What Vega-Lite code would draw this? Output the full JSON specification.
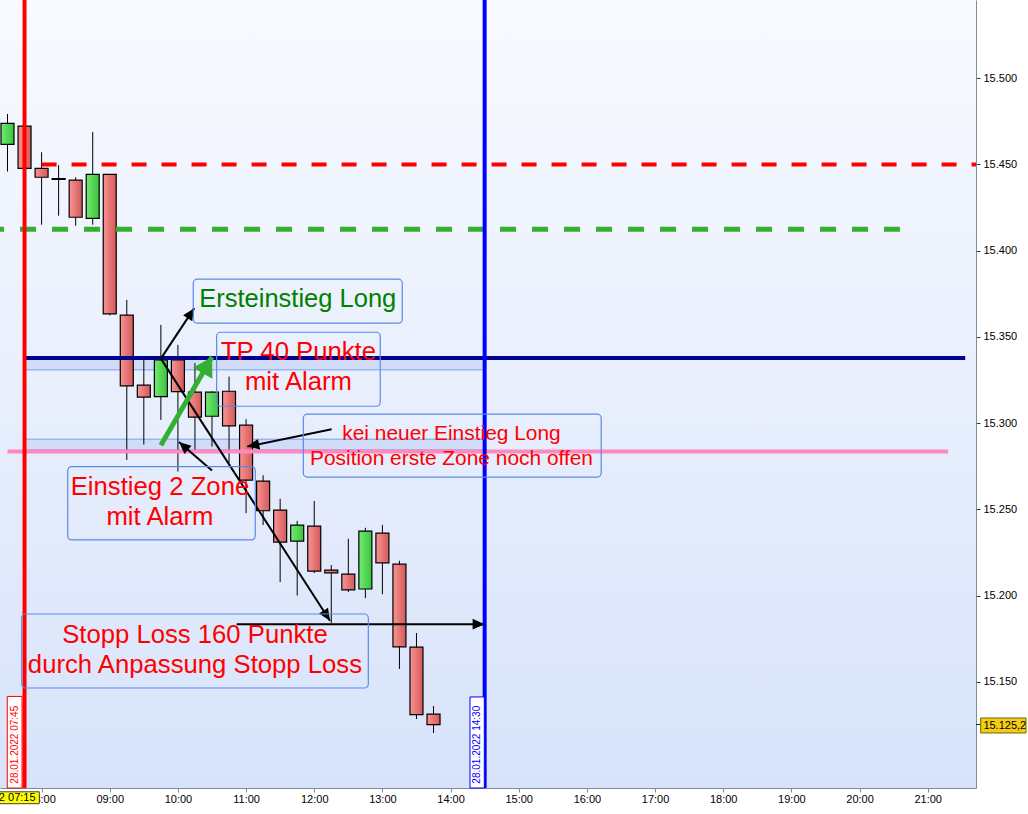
{
  "$schema": "https://vega.github.io/schema/vega-lite/v6.json",
  "width": 976,
  "height": 788,
  "autosize": {"type": "none"},
  "padding": {"left": 0, "top": 0, "right": 52, "bottom": 26},
  "background": "white",
  "config": {"font": "Liberation Sans", "view": {"stroke": null}, "scale": {"continuousPadding": 0}},
  "datasets": {
    "frame": [
      {"t1": "2022-01-28T07:23:24", "t2": "2022-01-28T21:42:30", "v1": 15545.4, "v2": 15088.4}
    ],
    "candles": [
      {"t": "2022-01-28T07:30", "o": 15461.7, "h": 15479.3, "l": 15445.9, "c": 15473.9},
      {"t": "2022-01-28T07:45", "o": 15472.3, "h": 15474.5, "l": 15446.5, "c": 15447.8},
      {"t": "2022-01-28T08:00", "o": 15447.8, "h": 15457.1, "l": 15415.1, "c": 15442.6},
      {"t": "2022-01-28T08:15", "o": 15441.8, "h": 15449.6, "l": 15420.3, "c": 15441.4},
      {"t": "2022-01-28T08:30", "o": 15440.9, "h": 15442.6, "l": 15414.5, "c": 15419.4},
      {"t": "2022-01-28T08:45", "o": 15418.8, "h": 15468.9, "l": 15415.1, "c": 15444.3},
      {"t": "2022-01-28T09:00", "o": 15444.3, "h": 15444.5, "l": 15362.5, "c": 15363.4},
      {"t": "2022-01-28T09:15", "o": 15362.6, "h": 15371.5, "l": 15278.7, "c": 15321.6},
      {"t": "2022-01-28T09:30", "o": 15322.0, "h": 15336.7, "l": 15287.6, "c": 15315.1},
      {"t": "2022-01-28T09:45", "o": 15315.4, "h": 15357.0, "l": 15301.9, "c": 15336.7},
      {"t": "2022-01-28T10:00", "o": 15336.7, "h": 15345.4, "l": 15271.9, "c": 15318.3},
      {"t": "2022-01-28T10:15", "o": 15318.0, "h": 15334.8, "l": 15284.5, "c": 15303.5},
      {"t": "2022-01-28T10:30", "o": 15304.0, "h": 15318.5, "l": 15286.4, "c": 15318.0},
      {"t": "2022-01-28T10:45", "o": 15318.5, "h": 15327.0, "l": 15276.8, "c": 15298.4},
      {"t": "2022-01-28T11:00", "o": 15298.8, "h": 15302.3, "l": 15247.8, "c": 15266.9},
      {"t": "2022-01-28T11:15", "o": 15266.4, "h": 15269.8, "l": 15240.9, "c": 15249.2},
      {"t": "2022-01-28T11:30", "o": 15249.6, "h": 15256.1, "l": 15207.8, "c": 15231.0},
      {"t": "2022-01-28T11:45", "o": 15231.6, "h": 15243.3, "l": 15200.0, "c": 15240.9},
      {"t": "2022-01-28T12:00", "o": 15240.3, "h": 15254.9, "l": 15213.0, "c": 15214.2},
      {"t": "2022-01-28T12:15", "o": 15214.8, "h": 15217.7, "l": 15184.0, "c": 15213.2},
      {"t": "2022-01-28T12:30", "o": 15212.4, "h": 15232.9, "l": 15202.0, "c": 15203.3},
      {"t": "2022-01-28T12:45", "o": 15203.8, "h": 15239.3, "l": 15198.5, "c": 15237.4},
      {"t": "2022-01-28T13:00", "o": 15236.2, "h": 15241.0, "l": 15200.8, "c": 15219.0},
      {"t": "2022-01-28T13:15", "o": 15218.2, "h": 15220.2, "l": 15157.4, "c": 15170.3},
      {"t": "2022-01-28T13:30", "o": 15170.1, "h": 15178.3, "l": 15128.4, "c": 15130.9},
      {"t": "2022-01-28T13:45", "o": 15131.3, "h": 15135.9, "l": 15120.3, "c": 15125.2}
    ],
    "zones": [
      {"t1": "2022-01-28T07:45", "t2": "2022-01-28T14:30", "v1": 15337.5, "v2": 15330.9},
      {"t1": "2022-01-28T07:45", "t2": "2022-01-28T14:30", "v1": 15290.7, "v2": 15284.5}
    ],
    "hlines": [
      {"id": "red", "t1": "2022-01-28T08:00", "t2": "2022-01-28T21:42:30", "v": 15450},
      {"id": "green", "t1": "2022-01-28T07:23:24", "t2": "2022-01-28T20:35:30", "v": 15412.5},
      {"id": "navy", "t1": "2022-01-28T07:45", "t2": "2022-01-28T21:33", "v": 15337.8},
      {"id": "pink", "t1": "2022-01-28T07:30", "t2": "2022-01-28T21:18", "v": 15283.5}
    ],
    "vlines": [
      {"id": "red", "t": "2022-01-28T07:45"},
      {"id": "blue", "t": "2022-01-28T14:30"}
    ],
    "arrows": [
      {"id": "a1", "t1": "2022-01-28T09:45", "v1": 15337.4, "t2": "2022-01-28T10:14:24", "v2": 15366.7},
      {"id": "a2", "t1": "2022-01-28T09:45", "v1": 15287.2, "t2": "2022-01-28T10:30", "v2": 15338.3},
      {"id": "a3", "t1": "2022-01-28T10:30", "v1": 15272.5, "t2": "2022-01-28T10:00:54", "v2": 15289.0},
      {"id": "a4", "t1": "2022-01-28T12:15:18", "v1": 15296.5, "t2": "2022-01-28T11:01:06", "v2": 15286.4},
      {"id": "a5", "t1": "2022-01-28T09:45", "v1": 15337.4, "t2": "2022-01-28T12:13:51", "v2": 15185.4},
      {"id": "a6", "t1": "2022-01-28T10:51:42", "v1": 15183.4, "t2": "2022-01-28T14:30", "v2": 15183.4}
    ],
    "notes": [
      {"id": "n1", "t1": "2022-01-28T10:13:30", "t2": "2022-01-28T13:17:30", "v1": 15383.5, "v2": 15358.0, "tx": "2022-01-28T11:45:30", "ty": 15371.9, "label": "Ersteinstieg Long"},
      {"id": "n2", "t1": "2022-01-28T10:34:06", "t2": "2022-01-28T12:58:06", "v1": 15352.7, "v2": 15309.8, "tx": "2022-01-28T11:46:06", "ty": 15341.1, "label": "TP 40 Punkte\nmit Alarm"},
      {"id": "n3", "t1": "2022-01-28T11:50:24", "t2": "2022-01-28T16:12:36", "v1": 15305.2, "v2": 15268.7, "tx": "2022-01-28T14:00:48", "ty": 15293.7, "label": "kei neuer Einstieg Long\nPosition erste Zone noch offen"},
      {"id": "n4", "t1": "2022-01-28T08:23", "t2": "2022-01-28T11:08:06", "v1": 15274.8, "v2": 15232.3, "tx": "2022-01-28T09:44:12", "ty": 15263.1, "label": "Einstieg 2 Zone\nmit Alarm"},
      {"id": "n5", "t1": "2022-01-28T07:42:30", "t2": "2022-01-28T12:47:36", "v1": 15189.3, "v2": 15146.4, "tx": "2022-01-28T10:15", "ty": 15177.4, "label": "Stopp Loss 160 Punkte\ndurch Anpassung Stopp Loss"}
    ],
    "tags": [
      {"id": "red", "t1": "2022-01-28T07:29:48", "t2": "2022-01-28T07:42:48", "v1": 15141.5, "v2": 15088.4, "tx": "2022-01-28T07:36:18", "ty": 15113.5, "label": "28.01.2022 07:45"},
      {"id": "blue", "t1": "2022-01-28T14:17:06", "t2": "2022-01-28T14:29:42", "v1": 15141.2, "v2": 15088.4, "tx": "2022-01-28T14:23:24", "ty": 15113.5, "label": "28.01.2022 14:30"}
    ],
    "cursor": [
      {"id": "time", "t1": "2022-01-28T06:30", "t2": "2022-01-28T07:58", "v1": 15086.2, "v2": 15079.3, "tx": "2022-01-28T07:17", "ty": 15082.8, "label": "28.01.2022 07:15"},
      {"id": "price", "t1": "2022-01-28T21:46:36", "t2": "2022-01-28T22:26:30", "v1": 15129.0, "v2": 15120.3, "tx": "2022-01-28T21:49", "ty": 15124.6, "label": "15.125,2", "tk": "2022-01-28T21:42:30", "p": 15125.2}
    ]
  },
  "layer": [
    {
      "data": {"name": "frame"},
      "mark": {"type": "rect", "fill": {"gradient": "linear", "x1": 0, "y1": 0, "x2": 0, "y2": 1, "stops": [{"offset": 0, "color": "#f8faff"}, {"offset": 1, "color": "#d8e3fa"}]}},
      "encoding": {
        "x": {"field": "t1", "type": "temporal",
          "scale": {"domain": [{"year": 2022, "month": 1, "date": 28, "hours": 7, "minutes": 23, "seconds": 24}, {"year": 2022, "month": 1, "date": 28, "hours": 21, "minutes": 42, "seconds": 30}], "padding": 0},
          "axis": {"orient": "bottom", "format": "%H:%M", "tickCount": 14, "title": null, "grid": false, "domainColor": "#7b8c9c", "tickColor": "#7b8c9c", "tickSize": 4, "labelPadding": 1, "labelFontSize": 11, "labelColor": "#000000"}},
        "x2": {"field": "t2"},
        "y": {"field": "v1", "type": "quantitative",
          "scale": {"domain": [15088.4, 15545.4], "nice": false, "zero": false, "padding": 0},
          "axis": {"orient": "right", "values": [15150, 15200, 15250, 15300, 15350, 15400, 15450, 15500], "labelExpr": "replace(format(datum.value, ',d'), ',', '.')", "title": null, "grid": false, "domainColor": "#7b8c9c", "tickColor": "#333333", "tickSize": 4, "labelPadding": 3, "labelFontSize": 11, "labelColor": "#000000"}},
        "y2": {"field": "v2"}
      }
    },
    {
      "data": {"name": "zones"},
      "mark": {"type": "rect", "fill": "#d1ddf8", "stroke": "#7ba0ea", "strokeWidth": 1},
      "encoding": {
        "x": {"field": "t1", "type": "temporal"},
        "x2": {"field": "t2"},
        "y": {"field": "v1", "type": "quantitative"},
        "y2": {"field": "v2"}
      }
    },
    {
      "data": {"name": "candles"},
      "mark": {"type": "rule", "color": "black", "strokeWidth": 1},
      "encoding": {
        "x": {"field": "t", "type": "temporal"},
        "y": {"field": "l", "type": "quantitative"},
        "y2": {"field": "h"}
      }
    },
    {
      "data": {"name": "candles"},
      "transform": [{"filter": "datum.c < datum.o"}],
      "mark": {"type": "bar", "size": 13, "stroke": "black", "strokeWidth": 1.2, "fill": {"gradient": "linear", "x1": 0, "y1": 0, "x2": 1, "y2": 0, "stops": [{"offset": 0, "color": "#f99393"}, {"offset": 1, "color": "#d35a5a"}]}},
      "encoding": {
        "x": {"field": "t", "type": "temporal"},
        "y": {"field": "o", "type": "quantitative"},
        "y2": {"field": "c"}
      }
    },
    {
      "data": {"name": "candles"},
      "transform": [{"filter": "datum.c >= datum.o"}],
      "mark": {"type": "bar", "size": 13, "stroke": "black", "strokeWidth": 1.2, "fill": {"gradient": "linear", "x1": 0, "y1": 0, "x2": 1, "y2": 0, "stops": [{"offset": 0, "color": "#72ea72"}, {"offset": 1, "color": "#3cc43c"}]}},
      "encoding": {
        "x": {"field": "t", "type": "temporal"},
        "y": {"field": "o", "type": "quantitative"},
        "y2": {"field": "c"}
      }
    },
    {
      "data": {"name": "hlines"},
      "transform": [{"filter": "datum.id == 'green'"}],
      "mark": {"type": "rule", "color": "#33b033", "strokeWidth": 5, "strokeDash": [16, 16], "strokeDashOffset": 12},
      "encoding": {
        "x": {"field": "t1", "type": "temporal"},
        "x2": {"field": "t2"},
        "y": {"field": "v", "type": "quantitative"}
      }
    },
    {
      "data": {"name": "hlines"},
      "transform": [{"filter": "datum.id == 'red'"}],
      "mark": {"type": "rule", "color": "#ff0000", "strokeWidth": 4, "strokeDash": [15, 15]},
      "encoding": {
        "x": {"field": "t1", "type": "temporal"},
        "x2": {"field": "t2"},
        "y": {"field": "v", "type": "quantitative"}
      }
    },
    {
      "data": {"name": "hlines"},
      "transform": [{"filter": "datum.id == 'pink'"}],
      "mark": {"type": "rule", "color": "#ff88c0", "strokeWidth": 4},
      "encoding": {
        "x": {"field": "t1", "type": "temporal"},
        "x2": {"field": "t2"},
        "y": {"field": "v", "type": "quantitative"}
      }
    },
    {
      "data": {"name": "hlines"},
      "transform": [{"filter": "datum.id == 'navy'"}],
      "mark": {"type": "rule", "color": "#000090", "strokeWidth": 4},
      "encoding": {
        "x": {"field": "t1", "type": "temporal"},
        "x2": {"field": "t2"},
        "y": {"field": "v", "type": "quantitative"}
      }
    },
    {
      "data": {"name": "vlines"},
      "transform": [{"filter": "datum.id == 'red'"}],
      "mark": {"type": "rule", "color": "#ff0000", "strokeWidth": 4},
      "encoding": {"x": {"field": "t", "type": "temporal"}}
    },
    {
      "data": {"name": "vlines"},
      "transform": [{"filter": "datum.id == 'blue'"}],
      "mark": {"type": "rule", "color": "#0000ff", "strokeWidth": 4},
      "encoding": {"x": {"field": "t", "type": "temporal"}}
    },
    {
      "data": {"name": "arrows"},
      "transform": [{"filter": "datum.id != 'a2'"}],
      "mark": {"type": "rule", "color": "black", "strokeWidth": 2},
      "encoding": {
        "x": {"field": "t1", "type": "temporal"},
        "x2": {"field": "t2"},
        "y": {"field": "v1", "type": "quantitative"},
        "y2": {"field": "v2"}
      }
    },
    {
      "data": {"name": "arrows"},
      "transform": [{"filter": "datum.id == 'a2'"}],
      "mark": {"type": "rule", "color": "#33b033", "strokeWidth": 5},
      "encoding": {
        "x": {"field": "t1", "type": "temporal"},
        "x2": {"field": "t2"},
        "y": {"field": "v1", "type": "quantitative"},
        "y2": {"field": "v2"}
      }
    },
    {
      "data": {"name": "arrows"},
      "transform": [{"filter": "datum.id == 'a1'"}],
      "mark": {"type": "point", "shape": "M0,0L0.45,1L-0.45,1Z", "filled": true, "color": "black", "opacity": 1, "size": 576, "angle": 33.2, "strokeWidth": 0},
      "encoding": {"x": {"field": "t2", "type": "temporal"}, "y": {"field": "v2", "type": "quantitative"}}
    },
    {
      "data": {"name": "arrows"},
      "transform": [{"filter": "datum.id == 'a2'"}],
      "mark": {"type": "point", "shape": "M0,0L0.6,1L-0.6,1Z", "filled": true, "color": "#33b033", "opacity": 1, "size": 1384, "angle": 29.9, "strokeWidth": 0},
      "encoding": {"x": {"field": "t2", "type": "temporal"}, "y": {"field": "v2", "type": "quantitative"}}
    },
    {
      "data": {"name": "arrows"},
      "transform": [{"filter": "datum.id == 'a3'"}],
      "mark": {"type": "point", "shape": "M0,0L0.45,1L-0.45,1Z", "filled": true, "color": "black", "opacity": 1, "size": 576, "angle": 310.7, "strokeWidth": 0},
      "encoding": {"x": {"field": "t2", "type": "temporal"}, "y": {"field": "v2", "type": "quantitative"}}
    },
    {
      "data": {"name": "arrows"},
      "transform": [{"filter": "datum.id == 'a4'"}],
      "mark": {"type": "point", "shape": "M0,0L0.45,1L-0.45,1Z", "filled": true, "color": "black", "opacity": 1, "size": 576, "angle": 258.4, "strokeWidth": 0},
      "encoding": {"x": {"field": "t2", "type": "temporal"}, "y": {"field": "v2", "type": "quantitative"}}
    },
    {
      "data": {"name": "arrows"},
      "transform": [{"filter": "datum.id == 'a5'"}],
      "mark": {"type": "point", "shape": "M0,0L0.45,1L-0.45,1Z", "filled": true, "color": "black", "opacity": 1, "size": 576, "angle": 147.3, "strokeWidth": 0},
      "encoding": {"x": {"field": "t2", "type": "temporal"}, "y": {"field": "v2", "type": "quantitative"}}
    },
    {
      "data": {"name": "arrows"},
      "transform": [{"filter": "datum.id == 'a6'"}],
      "mark": {"type": "point", "shape": "M0,0L0.45,1L-0.45,1Z", "filled": true, "color": "black", "opacity": 1, "size": 576, "angle": 90, "strokeWidth": 0},
      "encoding": {"x": {"field": "t2", "type": "temporal"}, "y": {"field": "v2", "type": "quantitative"}}
    },
    {
      "data": {"name": "notes"},
      "mark": {"type": "rect", "fill": "transparent", "stroke": "#5b8ae6", "strokeWidth": 1.2, "cornerRadius": 4},
      "encoding": {
        "x": {"field": "t1", "type": "temporal"},
        "x2": {"field": "t2"},
        "y": {"field": "v1", "type": "quantitative"},
        "y2": {"field": "v2"}
      }
    },
    {
      "data": {"name": "notes"},
      "transform": [{"filter": "datum.id == 'n1'"}],
      "mark": {"type": "text", "fontSize": 25.5, "color": "#008000", "align": "center", "baseline": "middle", "font": "Liberation Sans"},
      "encoding": {
        "x": {"field": "tx", "type": "temporal"},
        "y": {"field": "ty", "type": "quantitative"},
        "text": {"field": "label"}
      }
    },
    {
      "data": {"name": "notes"},
      "transform": [{"filter": "datum.id == 'n2' || datum.id == 'n4' || datum.id == 'n5'"}],
      "mark": {"type": "text", "fontSize": 25.7, "lineHeight": 30, "lineBreak": "\n", "color": "#ff0000", "align": "center", "baseline": "middle", "font": "Liberation Sans"},
      "encoding": {
        "x": {"field": "tx", "type": "temporal"},
        "y": {"field": "ty", "type": "quantitative"},
        "text": {"field": "label"}
      }
    },
    {
      "data": {"name": "notes"},
      "transform": [{"filter": "datum.id == 'n3'"}],
      "mark": {"type": "text", "fontSize": 20.9, "lineHeight": 25, "lineBreak": "\n", "color": "#ff0000", "align": "center", "baseline": "middle", "font": "Liberation Sans"},
      "encoding": {
        "x": {"field": "tx", "type": "temporal"},
        "y": {"field": "ty", "type": "quantitative"},
        "text": {"field": "label"}
      }
    },
    {
      "data": {"name": "tags"},
      "transform": [{"filter": "datum.id == 'red'"}],
      "mark": {"type": "rect", "fill": "white", "stroke": "#ff0000", "strokeWidth": 1},
      "encoding": {
        "x": {"field": "t1", "type": "temporal"},
        "x2": {"field": "t2"},
        "y": {"field": "v1", "type": "quantitative"},
        "y2": {"field": "v2"}
      }
    },
    {
      "data": {"name": "tags"},
      "transform": [{"filter": "datum.id == 'blue'"}],
      "mark": {"type": "rect", "fill": "white", "stroke": "#0000ff", "strokeWidth": 1},
      "encoding": {
        "x": {"field": "t1", "type": "temporal"},
        "x2": {"field": "t2"},
        "y": {"field": "v1", "type": "quantitative"},
        "y2": {"field": "v2"}
      }
    },
    {
      "data": {"name": "tags"},
      "transform": [{"filter": "datum.id == 'red'"}],
      "mark": {"type": "text", "angle": 270, "fontSize": 10, "color": "#ff0000", "align": "center", "baseline": "middle"},
      "encoding": {
        "x": {"field": "tx", "type": "temporal"},
        "y": {"field": "ty", "type": "quantitative"},
        "text": {"field": "label"}
      }
    },
    {
      "data": {"name": "tags"},
      "transform": [{"filter": "datum.id == 'blue'"}],
      "mark": {"type": "text", "angle": 270, "fontSize": 10, "color": "#0000ff", "align": "center", "baseline": "middle"},
      "encoding": {
        "x": {"field": "tx", "type": "temporal"},
        "y": {"field": "ty", "type": "quantitative"},
        "text": {"field": "label"}
      }
    },
    {
      "data": {"name": "cursor"},
      "transform": [{"filter": "datum.id == 'price'"}],
      "mark": {"type": "rule", "color": "#222222", "strokeWidth": 1},
      "encoding": {
        "x": {"field": "tk", "type": "temporal"},
        "x2": {"field": "t1"},
        "y": {"field": "p", "type": "quantitative"}
      }
    },
    {
      "data": {"name": "cursor"},
      "transform": [{"filter": "datum.id == 'time'"}],
      "mark": {"type": "rect", "fill": "#ffff00", "stroke": "#404040", "strokeWidth": 1},
      "encoding": {
        "x": {"field": "t1", "type": "temporal"},
        "x2": {"field": "t2"},
        "y": {"field": "v1", "type": "quantitative"},
        "y2": {"field": "v2"}
      }
    },
    {
      "data": {"name": "cursor"},
      "transform": [{"filter": "datum.id == 'price'"}],
      "mark": {"type": "rect", "fill": "#f5cc14", "stroke": "#6b6b00", "strokeWidth": 1},
      "encoding": {
        "x": {"field": "t1", "type": "temporal"},
        "x2": {"field": "t2"},
        "y": {"field": "v1", "type": "quantitative"},
        "y2": {"field": "v2"}
      }
    },
    {
      "data": {"name": "cursor"},
      "transform": [{"filter": "datum.id == 'time'"}],
      "mark": {"type": "text", "fontSize": 11, "color": "#000000", "align": "center", "baseline": "middle"},
      "encoding": {
        "x": {"field": "tx", "type": "temporal"},
        "y": {"field": "ty", "type": "quantitative"},
        "text": {"field": "label"}
      }
    },
    {
      "data": {"name": "cursor"},
      "transform": [{"filter": "datum.id == 'price'"}],
      "mark": {"type": "text", "fontSize": 11, "color": "#000000", "align": "left", "baseline": "middle"},
      "encoding": {
        "x": {"field": "tx", "type": "temporal"},
        "y": {"field": "ty", "type": "quantitative"},
        "text": {"field": "label"}
      }
    }
  ]
}
